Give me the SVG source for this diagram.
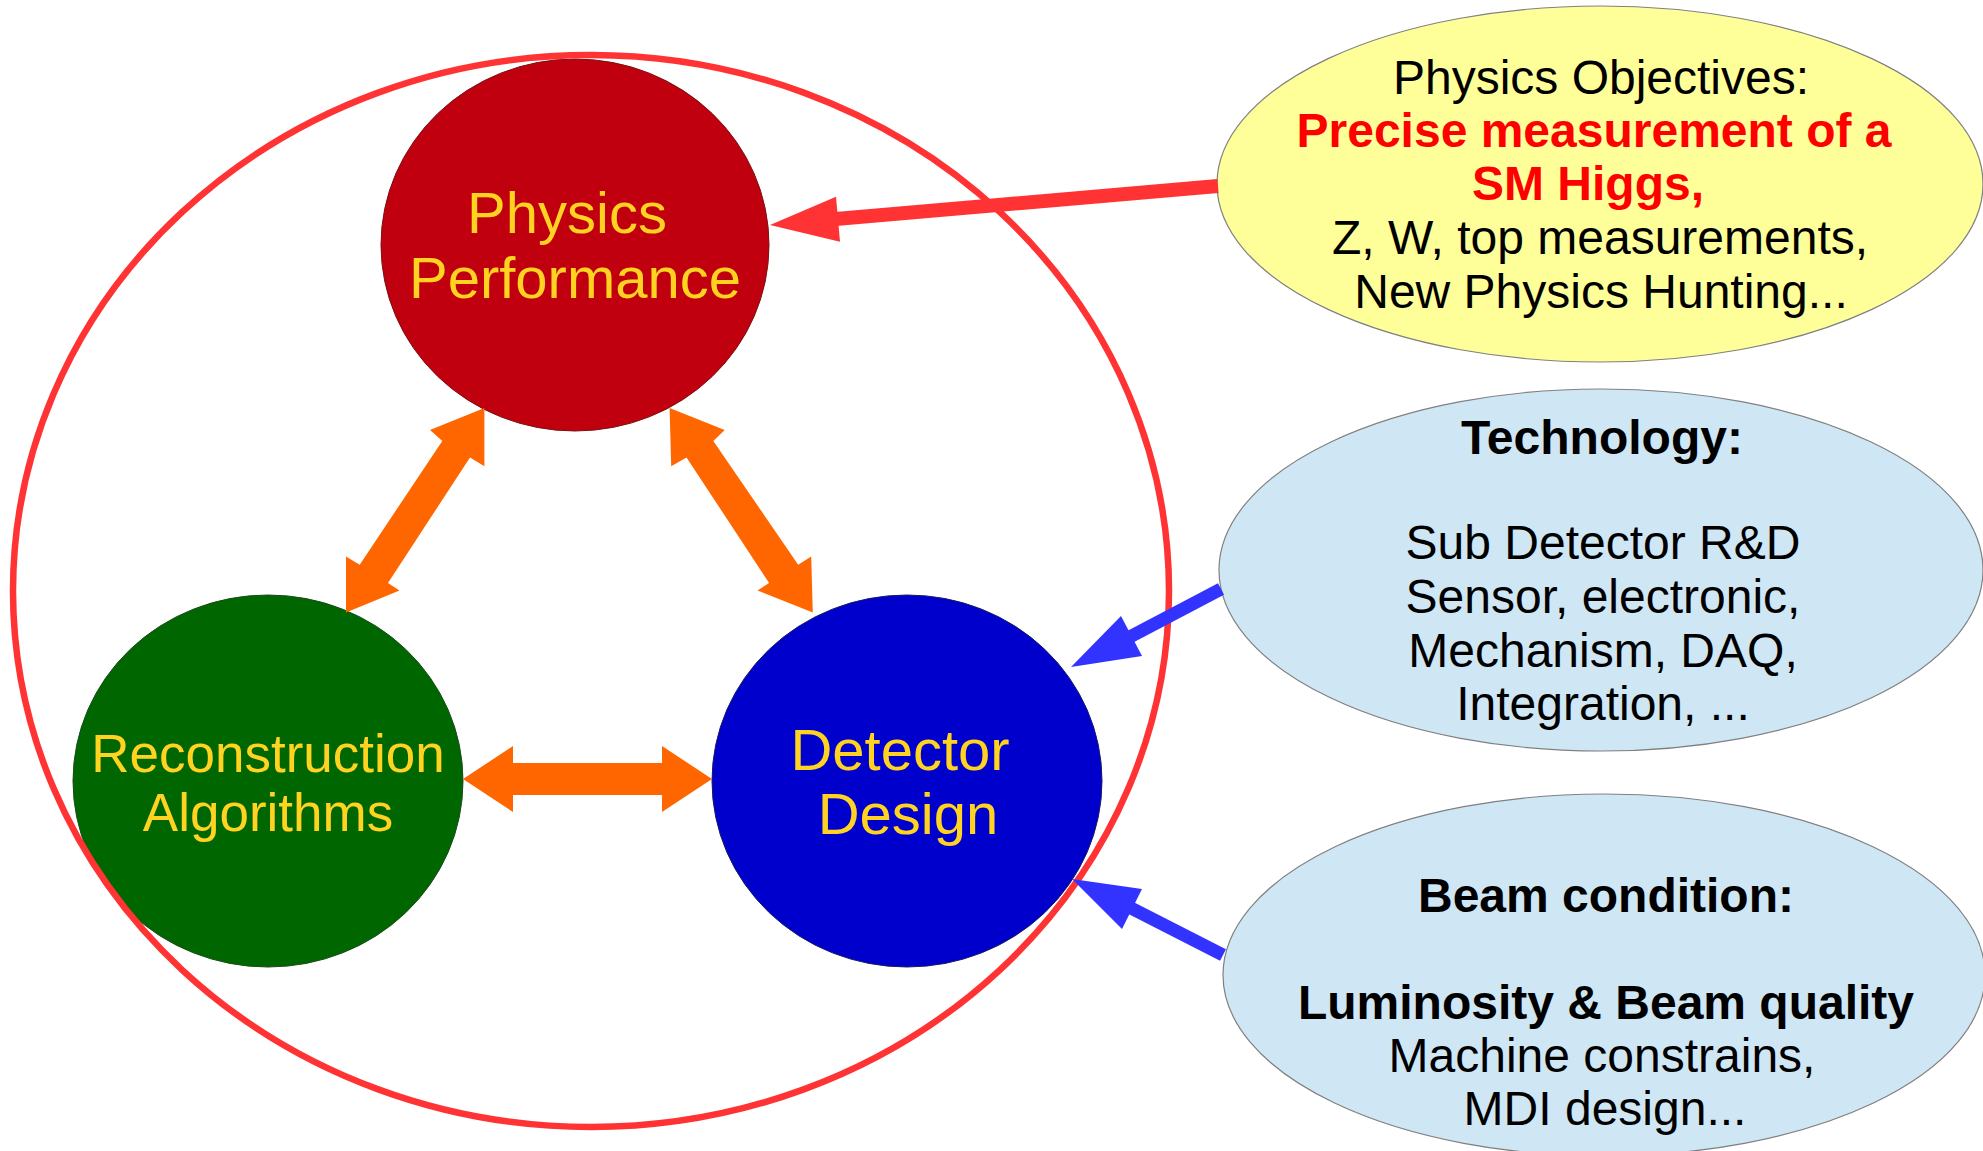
<svg xmlns="http://www.w3.org/2000/svg" width="1983" height="1151" viewBox="0 0 1983 1151">
<style>
.node-text{font-family:"Liberation Sans",Arial,sans-serif;fill:#ffd320;text-anchor:middle}
.side-text{font-family:"Liberation Sans",Arial,sans-serif;font-size:48px;fill:#000;text-anchor:middle}
.bold{font-weight:bold}
.red{fill:#ff0000}
.orange{fill:#ff6600}
.blue-line{stroke:#3333ff;stroke-width:13;fill:none}
.blue-head{fill:#3333ff}
.red-line{stroke:#ff3333;stroke-width:14;fill:none}
.red-head{fill:#ff3333}
.side{stroke:#808080;stroke-width:1.2}
</style>
<rect width="1983" height="1151" fill="#ffffff"/>

<g id="physics-objectives">
<ellipse cx="1600" cy="184" rx="383" ry="178" fill="#ffff99" class="side"/>
<text class="side-text" x="1601" y="94">Physics Objectives:</text>
<text class="side-text bold red" x="1594" y="147">Precise measurement of a</text>
<text class="side-text bold red" x="1588" y="200">SM Higgs,</text>
<text class="side-text" x="1600" y="254">Z, W, top measurements,</text>
<text class="side-text" x="1601" y="308">New Physics Hunting...</text>
</g>

<g id="technology">
<ellipse cx="1601" cy="570" rx="382" ry="181" fill="#cfe7f5" class="side"/>
<text class="side-text bold" x="1602" y="454">Technology:</text>
<text class="side-text" x="1603" y="559">Sub Detector R&amp;D</text>
<text class="side-text" x="1603" y="613">Sensor, electronic,</text>
<text class="side-text" x="1603" y="667">Mechanism, DAQ,</text>
<text class="side-text" x="1603" y="720">Integration, ...</text>
</g>

<g id="beam-condition">
<ellipse cx="1604" cy="975" rx="381" ry="181" fill="#cfe7f5" class="side"/>
<text class="side-text bold" x="1606" y="912">Beam condition:</text>
<text class="side-text bold" x="1606" y="1019">Luminosity &amp; Beam quality</text>
<text class="side-text" x="1602" y="1072">Machine constrains,</text>
<text class="side-text" x="1605" y="1125">MDI design...</text>
</g>

<g id="physics-performance">
<ellipse cx="575" cy="245" rx="194" ry="186" fill="#c1000f" stroke="#7a1010" stroke-width="1"/>
<text class="node-text" font-size="58" x="567" y="233">Physics</text>
<text class="node-text" font-size="58" x="575" y="298">Performance</text>
</g>

<g id="reconstruction-algorithms">
<ellipse cx="268" cy="781" rx="195" ry="186" fill="#006600" stroke="#1a4d1a" stroke-width="1"/>
<text class="node-text" font-size="53" x="268" y="772">Reconstruction</text>
<text class="node-text" font-size="53" x="268" y="831">Algorithms</text>
</g>

<g id="detector-design">
<ellipse cx="907" cy="781" rx="195" ry="186" fill="#0000cc" stroke="#1a1a66" stroke-width="1"/>
<text class="node-text" font-size="58" x="900" y="770">Detector</text>
<text class="node-text" font-size="58" x="908" y="834">Design</text>
</g>

<g id="boundary">
<ellipse cx="591" cy="591" rx="578" ry="536" fill="none" stroke="#ff3333" stroke-width="6.5"/>
</g>

<g id="connectors">
<polygon class="orange" points="463,779 513,812 513,795 662,795 662,812 712,779 662,746 662,763 513,763 513,746"/>
<polygon class="orange" points="484.4,408 430,430 442.3,441 359.7,564.7 346,556.6 346,612.5 399.5,590.4 388,583 470,457.4 484.4,466.2"/>
<polygon class="orange" points="669.6,408 724.7,430 713.3,441 798.2,564.7 811.2,556.6 812.8,612.5 757.6,590.4 769.1,583 686.5,457.4 671.2,466.2"/>
<line class="red-line" x1="1218" y1="186" x2="830" y2="219.5"/>
<polygon class="red-head" points="770,225 836,196.7 840,241.7"/>
<line class="blue-line" x1="1221" y1="589" x2="1124" y2="640"/>
<polygon class="blue-head" points="1071,667 1121,616 1142,656"/>
<line class="blue-line" x1="1223" y1="955" x2="1127" y2="906"/>
<polygon class="blue-head" points="1072,879 1142,889 1122,929"/>
</g>
</svg>
